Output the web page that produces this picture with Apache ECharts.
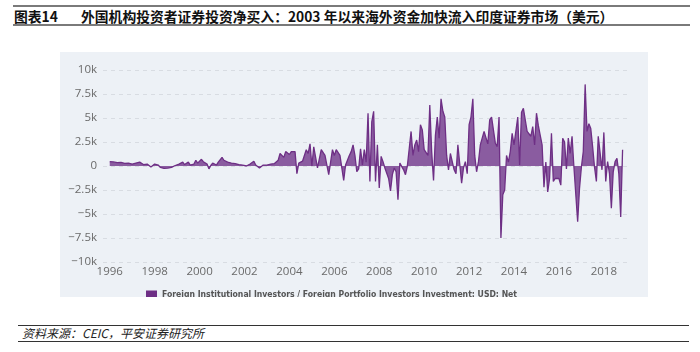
<!DOCTYPE html>
<html>
<head>
<meta charset="utf-8">
<script src="https://cdn.jsdelivr.net/npm/echarts@6/dist/echarts.min.js"></script>
<style>
  html, body { margin: 0; padding: 0; background: #fff; }
  #page { position: relative; width: 700px; height: 352px; overflow: hidden; }
  .rule { position: absolute; left: 13px; width: 677px; background: #7a7a7a; }
  .title { position: absolute; top: 8px; font-family: "Noto Sans CJK SC", sans-serif; font-weight: bold; font-size: 13.8px; line-height: 16px; color: #111; white-space: nowrap; }
  .srule { position: absolute; left: 18px; width: 671px; height: 1px; background: #333; }
  #source { position: absolute; left: 22px; top: 325px; font-family: "Noto Sans CJK SC", sans-serif; font-style: italic; font-size: 12px; line-height: 16px; color: #222; white-space: nowrap; }
  #chart { position: absolute; left: 60px; top: 52px; width: 588px; height: 245px; }
</style>
</head>
<body>
<div id="page">
  <div class="rule" style="top:5px;height:2px;"></div>
  <div class="title" style="left:14px;">图表14</div>
  <div class="title" style="left:81px;">外国机构投资者证券投资净买入：2003 年以来海外资金加快流入印度证券市场（美元）</div>
  <div class="rule" style="top:24px;height:2px;"></div>
  <div id="chart"></div>
  <div class="srule" style="top:325px;"></div>
  <div id="source">资料来源：CEIC，平安证券研究所</div>
  <div class="srule" style="top:341px;"></div>
</div>
<script>
// Monthly net investment, USD mn, Jan 1996 .. Nov 2018
const startYear = 1996;
const netFlow = [
  // 1996
  450, 380, 420, 400, 350, 320, 380, 300, 280, 250, 300, 220,
  // 1997
  200, 250, 300, 350, 400, 300, 150, 250, 200, 120, -100, 50,
  // 1998
  200, 150, 80, -150, -200, -250, -180, -220, -100, -150, -50, 50,
  // 1999
  100, 200, 150, 400, 150, 250, 400, 100, -100, 200, 600, 300,
  // 2000
  300, 700, 450, 600, 200, -300, 50, 300, 200, 100, 400, 300,
  // 2001
  900, 600, 500, 400, 350, 300, 300, 250, 100, 150, 200, 100,
  // 2002
  150, 0, 100, 200, 400, 500, 100, 0, -200, 0, 100, 100,
  // 2003
  100, 150, 200, 300, 250, 400, 600, 1300, 1400, 900, 1500, 1400,
  // 2004
  1200, 1500, 1300, 1500, -800, 300, 400, 500, 500, 1700, 1300, 2300,
  // 2005
  0, 2000, 1800, -200, -300, 1700, 1700, 1100, 1000, -900, 400, 1700,
  // 2006
  1100, 1700, 1500, 1100, -200, -1500, 100, 300, 1100, 1500, 2200, 1100,
  // 2007
  -600, -300, 1800, 100, 1700, 400, 5500, -1600, 4600, 5700, -1600, 2200,
  // 2008
  -2300, 1000, 450, -200, -200, -1300, -2600, -900, -200, -600, -3500, 300,
  // 2009
  450, -400, -900, 0, 1800, 3600, 1100, 2200, 2700, 1500, 4300, 3750,
  // 2010
  1700, 1500, 1100, 6350, 1500, -1500, 3200, 5100, 2900, 7000, 5700, 5100,
  // 2011
  1100, -400, 1300, 1500, -400, -800, 2200, 2400, -1800, -200, 450, -800,
  // 2012
  4300, 5100, 7000, 1100, -600, 450, 2200, 2300, 3600, 3500, 2300, 4800,
  // 2013
  5100, 5300, 2400, 2000, 5100, -7500, -3000, -2500, 1100, 400, 1500, 3400,
  // 2014
  2200, 2200, 5100, 100, 5600, 6000, 5800, 3600, 3400, 3100, 4100, 2200,
  // 2015
  5500, 4200, 3200, 2200, -2200, 400, -2700, -1300, 3400, -1600, -1300, -1500,
  // 2016
  -1300, -2000, 2900, 2500, -300, 2900, 1300, 3100, -100, -100, -5800, -2300,
  // 2017
  -100, 1500, 8500, 3600, 4400, 3900, 2000, -100, -1600, 3100, 3200, -400,
  // 2018
  3500, -1600, 450, -800, -4400, -600, 450, 800, -800, -5300, 1700
];
const yTicks = [-10000, -7500, -5000, -2500, 0, 2500, 5000, 7500, 10000];
const seriesName = 'Foreign Institutional Investors / Foreign Portfolio Investors Investment: USD: Net';

const points = netFlow.map((v, i) => [startYear + i / 12, v]);

const chart = echarts.init(document.getElementById('chart'), null, { renderer: 'canvas' });
chart.setOption({
  backgroundColor: '#edf1f6',
  animation: false,
  grid: { left: 43, top: 18, width: 524, height: 192, containLabel: false },
  legend: {
    left: 81, top: 233,
    itemWidth: 11, itemHeight: 8, itemGap: 4,
    icon: 'rect',
    textStyle: { fontFamily: '"Liberation Sans Narrow", "DejaVu Sans Condensed", sans-serif', fontWeight: 'bold', fontSize: 8.6, color: '#555' },
    data: [seriesName]
  },
  xAxis: {
    type: 'value',
    min: 1995.7, max: 2019.03, splitNumber: 12,
    axisLine: { show: false }, axisTick: { show: false }, splitLine: { show: false },
    axisLabel: {
      showMinLabel: false, showMaxLabel: false, margin: 4,
      color: '#6a6a6a', fontFamily: '"Open Sans", sans-serif', fontSize: 11.5,
      formatter: v => String(Math.round(v))
    }
  },
  yAxis: {
    type: 'value',
    min: yTicks[0], max: yTicks[yTicks.length - 1], interval: 2500,
    axisLine: { show: false }, axisTick: { show: false },
    splitLine: { show: true, lineStyle: { type: [4, 4], color: '#d8dce2', width: 1 } },
    axisLabel: {
      margin: 6, color: '#6a6a6a', fontFamily: '"Open Sans", sans-serif', fontSize: 11.5,
      formatter: v => v === 0 ? '0' : (v < 0 ? '\u2212' : '') + (Math.abs(v) / 1000) + 'k'
    }
  },
  series: [{
    name: seriesName,
    type: 'line',
    data: points,
    symbol: 'none',
    color: '#6e2f85',
    lineStyle: { color: '#6e2f85', width: 1.3 },
    areaStyle: { color: '#8a5ca0', opacity: 1 }
  }]
});
</script>
</body>
</html>
